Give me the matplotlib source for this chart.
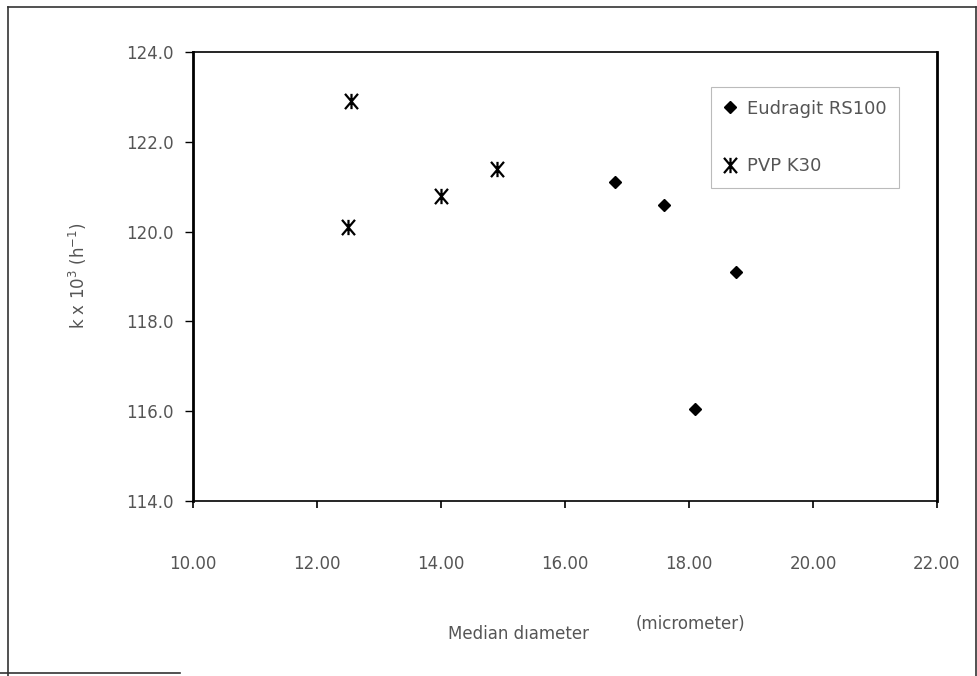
import matplotlib
matplotlib.use('Agg')
import matplotlib.pyplot as plt
from matplotlib.lines import Line2D
from matplotlib.path import Path

plt.rcParams['font.family'] = ['DejaVu Sans']

# data
eud_x = [16.8, 17.6, 18.75, 18.1]
eud_y = [121.1, 120.6, 119.1, 116.05]
pvp_x = [12.55, 12.5, 14.0, 14.9]
pvp_y = [122.9, 120.1, 120.8, 121.4]
x_ticks = [10, 12, 14, 16, 18, 20, 22]
y_ticks = [114, 116, 118, 120, 122, 124]
series_names = ['Eudragit RS100', 'PVP K30']

# excel-style star: an X with a vertical stroke through it
star = Path([(0, -1), (0, 1), (-0.85, -1), (0.85, 1), (-0.85, 1), (0.85, -1)],
            [Path.MOVETO, Path.LINETO] * 3)

grey = '#555555'
fig = plt.figure(figsize=(9.78, 6.76), dpi=100)
ax = fig.add_axes([193/978, 1 - 501/676, 744/978, 449/676])

ax.plot(eud_x, eud_y, ls='none', marker='D', ms=6, color='black', label=series_names[0])
ax.plot(pvp_x, pvp_y, ls='none', marker=star, ms=11, mew=1.6, color='black', label=series_names[1])

ax.set_xlim(10, 22)
ax.set_ylim(114, 124)
ax.set_xticks(x_ticks)
ax.set_xticklabels(['%.2f' % v for v in x_ticks])
ax.set_yticks(y_ticks)
ax.set_yticklabels(['%.1f' % v for v in y_ticks])
ax.tick_params(axis='x', direction='out', length=5, width=1.2, pad=34, labelsize=12, labelcolor=grey)
ax.tick_params(axis='y', direction='out', length=6, width=1.0, pad=8, labelsize=12, labelcolor=grey)
ax.spines['left'].set_linewidth(2.0)
ax.spines['right'].set_linewidth(2.0)
ax.spines['bottom'].set_linewidth(1.2)
ax.spines['top'].set_linewidth(1.2)

leg = ax.legend(loc='upper right', bbox_to_anchor=(0.961, 0.942), fontsize=13,
                frameon=True, fancybox=False, edgecolor='#aaaaaa', labelcolor=grey,
                handletextpad=0.5, handlelength=0.8, borderpad=0.7, labelspacing=2.2)
leg.get_frame().set_linewidth(0.8)

fig.text(518/978, 1 - 634/676, 'Median dıameter', ha='center', va='center', fontsize=12, color=grey)
fig.text(690/978, 1 - 624/676, '(micrometer)', ha='center', va='center', fontsize=12, color=grey)
fig.text(78/978, 1 - 276/676, r'k x 10$^{3}$ (h$^{-1}$)', rotation=90, ha='center', va='center',
         fontsize=12, color=grey)

# outer frame of the scanned chart
for xs, ys in [([8, 8], [7, 676]), ([8, 976], [7, 7]), ([976, 976], [7, 676]), ([0, 180], [673, 673])]:
    fig.add_artist(Line2D([x/978 for x in xs], [1 - y/676 for y in ys], color='#333333', lw=1.2))

fig.savefig('out.png', dpi=100)
